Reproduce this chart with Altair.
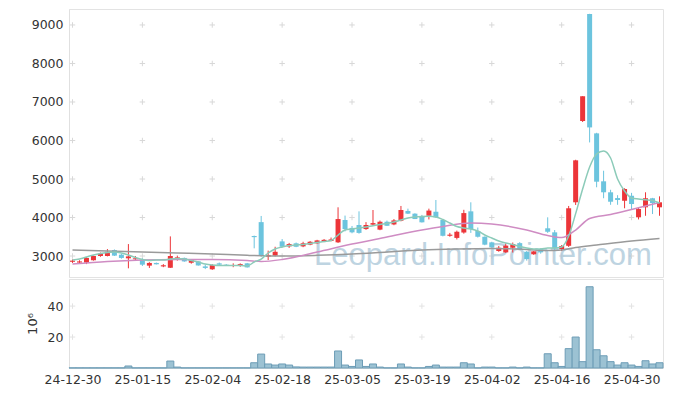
import altair as alt
import pandas as pd

# ---------------- data ----------------
dates = [
    "24-12-30", "25-01-02", "25-01-03", "25-01-06", "25-01-07", "25-01-08", "25-01-09", "25-01-10",
    "25-01-13", "25-01-14", "25-01-15", "25-01-16", "25-01-17", "25-01-20", "25-01-21", "25-01-22",
    "25-01-23", "25-01-24", "25-01-31", "25-02-03", "25-02-04", "25-02-05", "25-02-06", "25-02-07",
    "25-02-10", "25-02-11", "25-02-12", "25-02-13", "25-02-14", "25-02-17", "25-02-18", "25-02-19",
    "25-02-20", "25-02-21", "25-02-24", "25-02-25", "25-02-26", "25-02-27", "25-02-28", "25-03-04",
    "25-03-05", "25-03-06", "25-03-07", "25-03-10", "25-03-11", "25-03-12", "25-03-13", "25-03-14",
    "25-03-17", "25-03-18", "25-03-19", "25-03-20", "25-03-21", "25-03-24", "25-03-25", "25-03-26",
    "25-03-27", "25-03-28", "25-03-31", "25-04-01", "25-04-02", "25-04-03", "25-04-04", "25-04-07",
    "25-04-08", "25-04-09", "25-04-10", "25-04-11", "25-04-14", "25-04-15", "25-04-16", "25-04-17",
    "25-04-18", "25-04-21", "25-04-22", "25-04-23", "25-04-24", "25-04-25", "25-04-28", "25-04-29",
    "25-04-30", "25-05-02", "25-05-07", "25-05-08", "25-05-09",
]
opens = [2850, 2830, 2830, 2890, 3000, 3000, 3155, 3035, 2940, 2915,
         2895, 2750, 2820, 2730, 2695, 2915, 2950, 2825, 2860, 2730,
         2655, 2810, 2775, 2740, 2740, 2810, 3520, 3880, 2985, 3010,
         3380, 3250, 3330, 3250, 3295, 3330, 3370, 3390, 3355, 3935,
         3730, 3805, 3700, 3815, 3685, 3890, 3820, 3915, 4170, 4100,
         4030, 4045, 4150, 3935, 3525, 3470, 3610, 4160, 3650, 3500,
         3355, 3130, 3095, 3215, 3335, 3110, 3045, 3180, 3720, 3615,
         3180, 3265, 4395, 6505, 9285, 6185, 4940, 4655, 4505, 4435,
         4565, 4005, 4265, 4500, 4265]
highs = [2910, 2890, 2970, 3010, 3090, 3180, 3170, 3060, 3310, 3000,
         2940, 2840, 2830, 2790, 3510, 3010, 2960, 2920, 2870, 2780,
         2790, 2830, 2790, 2810, 2810, 2820, 3530, 4040, 3140, 3240,
         3440, 3340, 3350, 3370, 3390, 3420, 3440, 3480, 4265, 4050,
         3780, 4160, 3880, 4195, 3920, 3920, 3960, 4300, 4230, 4110,
         4060, 4230, 4455, 3950, 3600, 3660, 4200, 4395, 3740, 3510,
         3370, 3260, 3330, 3350, 3360, 3130, 3130, 3200, 4005, 3675,
         3285, 4300, 5500, 7150, 9290, 6200, 5215, 4720, 4580, 4760,
         4640, 4250, 4655, 4510, 4550]
lows = [2820, 2810, 2790, 2880, 2980, 2990, 3000, 2930, 2680, 2880,
        2740, 2690, 2780, 2710, 2690, 2880, 2850, 2800, 2750, 2660,
        2640, 2760, 2740, 2710, 2720, 2700, 3200, 2980, 2895, 2990,
        3220, 3210, 3230, 3230, 3280, 3320, 3360, 3380, 3340, 3640,
        3590, 3580, 3680, 3800, 3670, 3780, 3800, 3900, 4090, 3960,
        3870, 3950, 3990, 3510, 3500, 3430, 3580, 3600, 3480, 3280,
        3220, 3110, 3080, 3090, 3160, 2880, 3030, 3060, 3600, 3155,
        3130, 3235, 4325, 6480, 5950, 4785, 4500, 4330, 4330, 4240,
        4200, 3950, 4045, 4090, 4045]
closes = [2880, 2860, 2950, 3000, 3060, 3110, 3010, 2950, 2990, 2940,
          2775, 2820, 2785, 2760, 3000, 2965, 2860, 2895, 2755, 2690,
          2765, 2775, 2750, 2765, 2790, 2705, 3490, 3010, 3025, 3110,
          3240, 3310, 3240, 3330, 3370, 3405, 3420, 3430, 3960, 3700,
          3615, 3600, 3805, 3855, 3890, 3785, 3925, 4195, 4100, 3960,
          3875, 4180, 4005, 3525, 3555, 3630, 4115, 3700, 3500, 3295,
          3225, 3215, 3270, 3310, 3175, 2920, 3120, 3095, 3630, 3200,
          3260, 4240, 5485, 7150, 6340, 4930, 4655, 4410, 4455, 4740,
          4350, 4220, 4500, 4375, 4395]
volumes = [0.1, 0.1, 0.1, 0.1, 0.1, 0.1, 0.1, 0.1, 1.3, 0.1,
           0.1, 0.1, 0.1, 0.1, 4.5, 0.6, 0.1, 0.1, 0.1, 0.1,
           0.1, 0.1, 0.1, 0.1, 0.1, 0.1, 3.4, 9.0, 2.6, 1.9,
           2.6, 1.9, 0.7, 0.6, 0.6, 0.6, 0.6, 0.6, 11.0, 1.9,
           1.0, 5.2, 1.0, 2.6, 0.6, 0.1, 0.1, 2.6, 0.6, 0.1,
           0.1, 1.0, 1.9, 0.6, 0.6, 0.6, 3.4, 2.6, 0.1, 0.6,
           0.6, 0.1, 0.1, 0.6, 0.1, 0.6, 0.1, 0.1, 9.2, 3.4,
           1.0, 12.5, 20.0, 4.1, 52.5, 11.8, 7.9, 4.1, 1.9, 3.4,
           1.9, 1.0, 4.7, 2.6, 3.4]
ma_short = [2896, 2922, 2974, 3026, 3065, 3091, 3104, 3078, 3026, 2961,
            2909, 2883, 2896, 2896, 2922, 2935, 2922, 2883, 2844, 2792,
            2766, 2753, 2753, 2753, 2753, 2740, 2844, 2922, 3078, 3182,
            3234, 3273, 3286, 3299, 3325, 3351, 3377, 3403, 3545, 3675,
            3701, 3727, 3753, 3787, 3818, 3844, 3883, 3935, 3987, 4013,
            4026, 4031, 4013, 3948, 3857, 3766, 3727, 3701, 3649, 3545,
            3467, 3390, 3338, 3299, 3247, 3208, 3182, 3182, 3208, 3208,
            3234, 3520, 4100, 4740, 5311, 5649, 5727, 5545, 5000, 4688,
            4506, 4480, 4462, 4441, 4376]
ma_mid_idx = [0, 5, 10, 15, 20, 25, 27, 30, 35, 40, 45, 50, 53, 57, 60, 65, 68, 70, 72, 74, 77, 80, 84]
ma_mid = [2792, 2857, 2896, 2909, 2909, 2883, 2857, 2909, 3104, 3312, 3493, 3675, 3766, 3857,
          3831, 3675, 3532, 3480, 3675, 3974, 4078, 4208, 4389]
ma_long_idx = [0, 5, 10, 15, 20, 25, 30, 35, 40, 45, 50, 55, 60, 65, 68, 70, 72, 75, 80, 84]
ma_long = [3156, 3130, 3104, 3078, 3052, 3018, 3000, 3018, 3052, 3104, 3156, 3182, 3195, 3169,
           3143, 3156, 3221, 3286, 3390, 3454]
tick_idx = [0, 10, 20, 30, 40, 50, 60, 70, 80]
price_ticks = [3000, 4000, 5000, 6000, 7000, 8000, 9000]
vol_ticks = [20, 40]
WATERMARK = "Leopard.InfoPointer.com"

# ---------------- styles ----------------
RED = "#ec3539"
BLUE = "#6cc4de"
TEAL = "#8ccbb9"
PINK = "#cf8cc3"
GRAY = "#9a9a9a"
FONT = "DejaVu Sans"
W = 594

n = len(dates)
df = pd.DataFrame({"i": list(range(n)), "date": dates, "open": opens, "high": highs,
                   "low": lows, "close": closes, "vol": volumes, "ma5": ma_short})
df["dir"] = ["up" if c >= o else "down" for o, c in zip(opens, closes)]
mid_df = pd.DataFrame({"i": ma_mid_idx, "v": ma_mid})
long_df = pd.DataFrame({"i": ma_long_idx, "v": ma_long})
grid_top = pd.DataFrame([(a, b) for a in tick_idx for b in price_ticks], columns=["i", "p"])
grid_bot = pd.DataFrame([(a, b) for a in tick_idx for b in vol_ticks], columns=["i", "p"])

xscale = alt.Scale(domain=[-0.5, n - 0.5], nice=False, zero=False, padding=0)
yscale = alt.Scale(domain=[2455, 9415], nice=False, zero=False, padding=0)
vscale = alt.Scale(domain=[0, 57.5], nice=False, padding=0)
col = alt.Color("dir:N", scale=alt.Scale(domain=["up", "down"], range=[RED, BLUE]), legend=None)
label_expr = "[" + ",".join("'%s'" % d for d in dates) + "][datum.value]"

cross = "M-1,0H1M0,-1V1"

xt = alt.X("i:Q", scale=xscale, axis=None)
yaxis = alt.Axis(values=price_ticks, title=None, grid=False, ticks=False, labelPadding=6,
                 domainColor="#e0e0e0", format="d")

g1 = alt.Chart(grid_top).mark_point(shape=cross, filled=False, size=30, color="#d8d8d8",
                                     strokeWidth=1, opacity=1).encode(
    x=xt, y=alt.Y("p:Q", scale=yscale, axis=yaxis))
wm = alt.Chart(pd.DataFrame({"t": [WATERMARK]})).mark_text(
    font="Liberation Sans", fontSize=31, color="#a9c6d8", opacity=0.75, align="center",
    baseline="alphabetic"
).encode(text="t:N", x=alt.value(414), y=alt.value(256))
wick = alt.Chart(df).mark_rule(strokeWidth=1).encode(
    x=xt, y=alt.Y("low:Q", scale=yscale, axis=yaxis), y2="high:Q", color=col)
body = alt.Chart(df).mark_bar(size=5).encode(
    x=xt, y=alt.Y("open:Q", scale=yscale, axis=yaxis), y2="close:Q", color=col)
l_long = alt.Chart(long_df).mark_line(color=GRAY, strokeWidth=1.5, interpolate="monotone").encode(
    x=xt, y=alt.Y("v:Q", scale=yscale, axis=yaxis))
l_mid = alt.Chart(mid_df).mark_line(color=PINK, strokeWidth=1.5, interpolate="monotone").encode(
    x=xt, y=alt.Y("v:Q", scale=yscale, axis=yaxis))
l_short = alt.Chart(df).mark_line(color=TEAL, strokeWidth=1.5, interpolate="monotone").encode(
    x=xt, y=alt.Y("ma5:Q", scale=yscale, axis=yaxis))

top = alt.layer(g1, wm, wick, body, l_long, l_mid, l_short).properties(width=W, height=268)

xb = alt.X("i:Q", scale=xscale, axis=alt.Axis(values=tick_idx, labelExpr=label_expr, title=None,
                                                grid=False, ticks=False, labelPadding=5,
                                                domainColor="#e0e0e0", labelFlush=False))
vaxis = alt.Axis(values=vol_ticks, title="10⁶", grid=False, ticks=False, labelPadding=6,
                 domainColor="#e0e0e0", titlePadding=8, titleFontWeight="normal",
                 titleFontSize=13, titleColor="#333333", titleFont=FONT)
g2 = alt.Chart(grid_bot).mark_point(shape=cross, filled=False, size=30, color="#d8d8d8",
                                     strokeWidth=1).encode(
    x=xb, y=alt.Y("p:Q", scale=vscale, axis=vaxis))
vbars = alt.Chart(df).mark_bar(size=7, fill="#9cc2d3", stroke="#6d9db6", strokeWidth=1).encode(
    x=xb, y=alt.Y("vol:Q", scale=vscale, axis=vaxis))
bottom = alt.layer(g2, vbars).properties(width=W, height=89)

chart = alt.vconcat(top, bottom, spacing=0).properties(
    padding={"left": 17, "top": 0, "right": 0, "bottom": 0}
).configure_view(stroke="#e3e3e3").configure_axis(
    labelFont=FONT, labelFontSize=12.5, labelColor="#333333"
)

chart.save("out.html", embed_options={"renderer": "svg", "actions": False})
